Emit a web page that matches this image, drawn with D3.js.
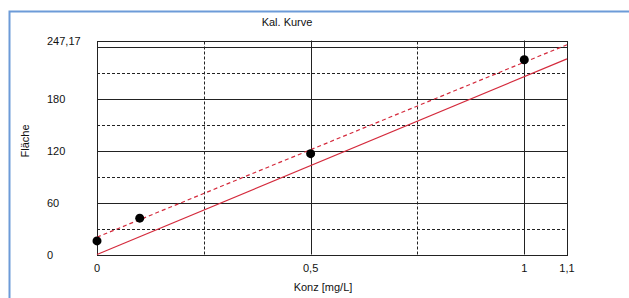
<!DOCTYPE html>
<html>
<head>
<meta charset="utf-8">
<script src="https://cdn.jsdelivr.net/npm/d3@7"></script>
<style>
  body { margin: 0; background: #fff; }
  svg text { font-family: "Liberation Sans", Arial, sans-serif; font-size: 11px; fill: #111; }
</style>
</head>
<body>
<svg id="chart" width="629" height="298"></svg>
<script>
"use strict";

// Kalibrierpunkte (Konz, Fläche)
var konz = [0, 0.1, 0.5, 1];
var flaeche = [15.7, 42, 116.5, 225];

// Kurven: durch Nullpunkt (durchgezogen) und mit Achsenabschnitt (gestrichelt)
var lineSolid = [[0, 0], [1.1, 226]];
var lineDashed = [[0, 20], [1.1, 242.3]];

var xTicks = [0, 0.5, 1, 1.1];
var xTickLabels = ["0", "0,5", "1", "1,1"];
var yTicks = [0, 60, 120, 180, 247.17];
var yTickLabels = ["0", "60", "120", "180", "247,17"];
var xGridSolid = [0.5, 1];
var xGridDashed = [0.25, 0.75];
var yGridSolid = [60, 120, 180, 240];
var yGridDashed = [30, 90, 150, 210];

var svg = d3.select("#chart");

// blauer Rahmen
svg.append("path")
  .attr("d", "M9.5,298 L9.5,11.5 L629,11.5")
  .attr("fill", "none")
  .attr("stroke", "#6d9bd8")
  .attr("stroke-width", 2);

var x = d3.scaleLinear().domain([0, 1.1]).range([97, 567]);
var y = d3.scaleLinear().domain([0, 247.17]).range([254.5, 40.5]);

var grid = svg.append("g");

grid.selectAll(".hs").data(yGridSolid).enter().append("line")
  .attr("x1", x(0)).attr("x2", x(1.1))
  .attr("y1", function(d) { return Math.round(y(d)) + 0.5; })
  .attr("y2", function(d) { return Math.round(y(d)) + 0.5; })
  .attr("stroke", "#222").attr("stroke-width", 1);

grid.selectAll(".hd").data(yGridDashed).enter().append("line")
  .attr("x1", x(0)).attr("x2", x(1.1))
  .attr("y1", function(d) { return Math.round(y(d)) + 0.5; })
  .attr("y2", function(d) { return Math.round(y(d)) + 0.5; })
  .attr("stroke", "#222").attr("stroke-width", 1)
  .attr("stroke-dasharray", "3,2");

grid.selectAll(".vs").data(xGridSolid).enter().append("line")
  .attr("y1", y(0)).attr("y2", y(247.17))
  .attr("x1", function(d) { return Math.round(x(d)) + 0.5; })
  .attr("x2", function(d) { return Math.round(x(d)) + 0.5; })
  .attr("stroke", "#222").attr("stroke-width", 1);

grid.selectAll(".vd").data(xGridDashed).enter().append("line")
  .attr("y1", y(0)).attr("y2", y(247.17))
  .attr("x1", function(d) { return Math.round(x(d)) + 0.5; })
  .attr("x2", function(d) { return Math.round(x(d)) + 0.5; })
  .attr("stroke", "#222").attr("stroke-width", 1)
  .attr("stroke-dasharray", "3,2");

// Plotrahmen
grid.append("rect")
  .attr("x", x(0) + 0.5).attr("y", Math.round(y(247.17)) + 0.5)
  .attr("width", x(1.1) - x(0))
  .attr("height", Math.round(y(0)) - Math.round(y(247.17)))
  .attr("fill", "none")
  .attr("stroke", "#222").attr("stroke-width", 1);

var line = d3.line()
  .x(function(d) { return x(d[0]); })
  .y(function(d) { return y(d[1]); });

svg.append("path")
  .attr("d", line(lineSolid))
  .attr("fill", "none")
  .attr("stroke", "#d42a3c").attr("stroke-width", 1.2);

svg.append("path")
  .attr("d", line(lineDashed))
  .attr("fill", "none")
  .attr("stroke", "#d42a3c").attr("stroke-width", 1.2)
  .attr("stroke-dasharray", "4,3");

svg.selectAll(".pt").data(konz).enter().append("circle")
  .attr("cx", function(d) { return x(d); })
  .attr("cy", function(d, i) { return y(flaeche[i]); })
  .attr("r", 4.5)
  .attr("fill", "#000");

// Achsenbeschriftung
svg.selectAll(".xt").data(xTicks).enter().append("text")
  .attr("x", function(d) { return x(d); })
  .attr("y", 272)
  .attr("text-anchor", "middle")
  .text(function(d, i) { return xTickLabels[i]; });

svg.selectAll(".yt").data(yTicks).enter().append("text")
  .attr("x", 47)
  .attr("y", function(d) { return y(d) + 4; })
  .text(function(d, i) { return yTickLabels[i]; });

svg.append("text")
  .attr("x", 287).attr("y", 26)
  .attr("text-anchor", "middle")
  .text("Kal. Kurve");

svg.append("text")
  .attr("x", 323).attr("y", 291)
  .attr("text-anchor", "middle")
  .text("Konz [mg/L]");

svg.append("text")
  .attr("transform", "translate(29,141) rotate(-90)")
  .attr("text-anchor", "middle")
  .text("Fläche");
</script>
</body>
</html>
